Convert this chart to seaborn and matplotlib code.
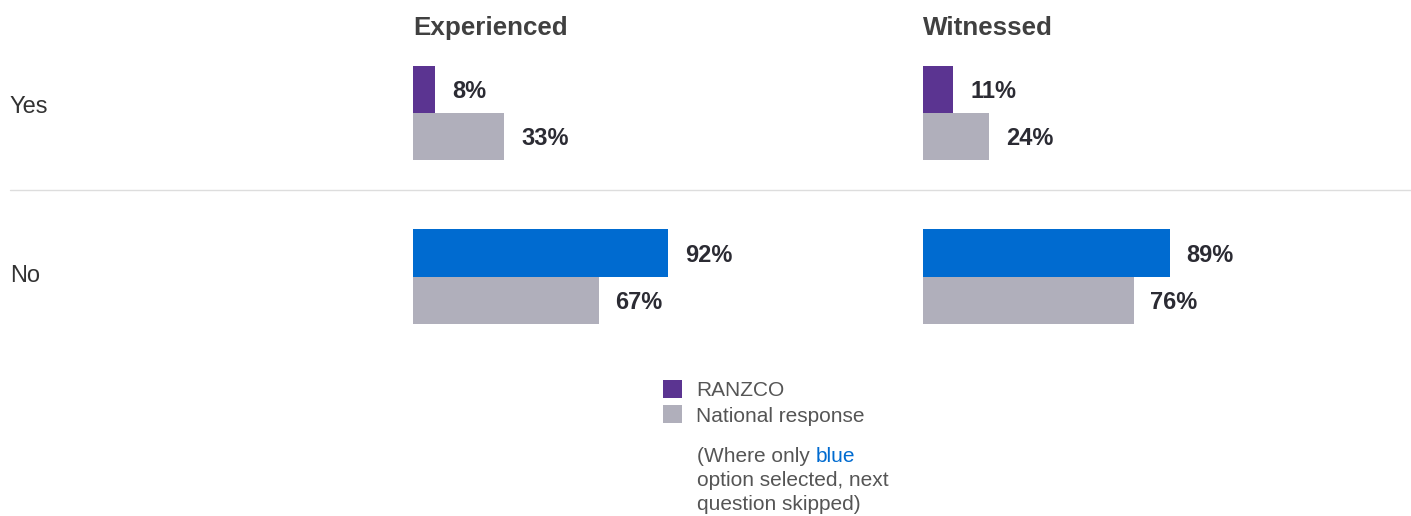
import pandas as pd
import matplotlib.pyplot as plt
import matplotlib.transforms as mtransforms
import seaborn as sns

# data
answers = ["Yes", "No"]
groups = ["RANZCO", "National response"]
panels = ["Experienced", "Witnessed"]
experienced_ranzco = [8, 92]
experienced_national = [33, 67]
witnessed_ranzco = [11, 89]
witnessed_national = [24, 76]

purple = "#5b3491"
blue = "#006bd0"
grey = "#b0afbb"
text_dark = "#2b2b33"

sns.set_style("white")
plt.rcParams["font.family"] = ["Liberation Sans", "DejaVu Sans"]

W, H = 1411, 516
fig = plt.figure(figsize=(W / 100, H / 100), dpi=100)


def make_df(ranzco, national):
    rows = []
    for a, v in zip(answers, ranzco):
        rows.append({"answer": a, "group": groups[0], "value": v})
    for a, v in zip(answers, national):
        rows.append({"answer": a, "group": groups[1], "value": v})
    return pd.DataFrame(rows)


panel_data = {
    "Experienced": make_df(experienced_ranzco, experienced_national),
    "Witnessed": make_df(witnessed_ranzco, witnessed_national),
}

# axes geometry in pixels: x 0-100% spans 277px, category centres at 113 / 276.5
scale = 277
y_top, y_bot = 31.25, 358.25
lefts = {"Experienced": 413, "Witnessed": 923}

axes = []
for name in panels:
    left = lefts[name]
    ax = fig.add_axes([left / W, 1 - y_bot / H, scale / W, (y_bot - y_top) / H])
    df = panel_data[name]
    sns.barplot(data=df, x="value", y="answer", hue="group", order=answers,
                hue_order=groups, palette=[purple, grey], orient="h",
                width=0.575, saturation=1, linewidth=0, legend=False, ax=ax)
    ax.set_xlim(0, 100)
    ax.set_ylim(1.5, -0.5)
    # the "No" answer of RANZCO is shown in blue
    ax.containers[0][1].set_facecolor(blue)
    for cont in ax.containers:
        vals = [int(round(b.get_width())) for b in cont]
        anns = ax.bar_label(cont, labels=[f"{v}%" for v in vals], padding=12.2,
                            fontsize=17, fontweight="bold", color=text_dark)
        for ann in anns:
            ann.xyann = (ann.xyann[0], ann.xyann[1] - 1.5)
    ax.axis("off")
    fig.text(left / W, 1 - 28 / H, name, fontsize=18.7, fontweight="bold",
             color="#404040", ha="left", va="center")
    axes.append(ax)

# row labels
for a, ypix in zip(answers, [107, 276]):
    fig.text(10 / W, 1 - ypix / H, a, fontsize=17, color="#333333",
             ha="left", va="center")

# separator line
fig.add_artist(plt.Line2D([10 / W, 1], [1 - 190 / H] * 2, color="#dddddd", lw=1))

# legend
handles = [axes[0].containers[0][0], axes[0].containers[1][0]]
fig.legend(handles, groups, loc="upper left",
           bbox_to_anchor=(663 / W, 1 - 380 / H), frameon=False,
           fontsize=15, handlelength=0.9, handleheight=0.95, handletextpad=0.7,
           labelspacing=0.25, borderpad=0, borderaxespad=0, labelcolor="#555555")

# note under the legend
note_color = "#555555"
t1 = fig.text(697 / W, 1 - 461.5 / H, "(Where only ", fontsize=15, color=note_color,
              ha="left", va="baseline")
axes[0].annotate("blue", xy=(1, 0), xycoords=t1, fontsize=15, color=blue,
                 ha="left", va="bottom")
fig.text(697 / W, 1 - 486 / H, "option selected, next", fontsize=15,
         color=note_color, ha="left", va="baseline")
fig.text(697 / W, 1 - 510 / H, "question skipped)", fontsize=15,
         color=note_color, ha="left", va="baseline")

fig.savefig("out.png", dpi=100)
